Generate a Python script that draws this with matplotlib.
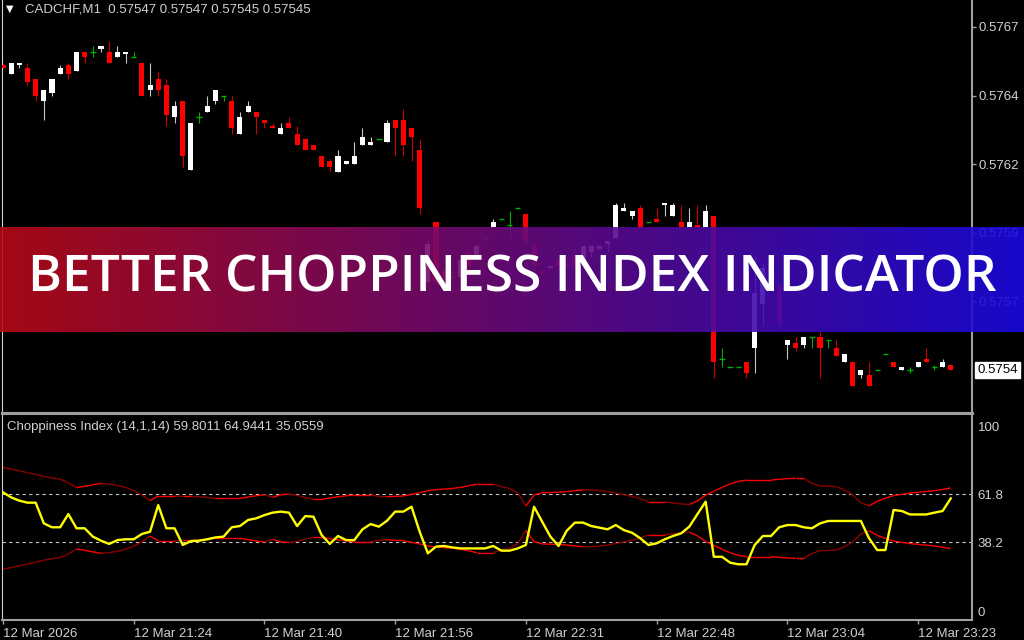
import numpy as np
import matplotlib
matplotlib.use("Agg")
import matplotlib.pyplot as plt
from matplotlib.collections import LineCollection

plt.rcParams['font.family'] = ['Liberation Sans', 'DejaVu Sans']

# CADCHF M1 candles
opens = [
    0.57656, 0.57653, 0.57656, 0.57655, 0.57651, 0.57643, 0.57646, 0.57653, 0.57656, 0.57654,
    0.57661, 0.57661, 0.57662, 0.57661, 0.57659, 0.57660, 0.57659, 0.57657, 0.57647, 0.57651,
    0.57649, 0.57637, 0.57643, 0.57618, 0.57637, 0.57639, 0.57643, 0.57645, 0.57643, 0.57631,
    0.57639, 0.57639, 0.57636, 0.57634, 0.57631, 0.57635, 0.57631, 0.57629, 0.57627, 0.57623,
    0.57621, 0.57617, 0.57620, 0.57620, 0.57627, 0.57627, 0.57629, 0.57628, 0.57636, 0.57636,
    0.57633, 0.57625, 0.57577, 0.57599, 0.57581, 0.57579, 0.57579, 0.57588, 0.57586, 0.57593,
    0.57597, 0.57600, 0.57598, 0.57604, 0.57602, 0.57590, 0.57581, 0.57582, 0.57585, 0.57584,
    0.57587, 0.57584, 0.57588, 0.57589, 0.57591, 0.57593, 0.57603, 0.57601, 0.57604, 0.57599,
    0.57600, 0.57605, 0.57601, 0.57599, 0.57597, 0.57598, 0.57597, 0.57601, 0.57549, 0.57546,
    0.57546, 0.57548, 0.57553, 0.57569, 0.57583, 0.57576, 0.57554, 0.57555, 0.57554, 0.57557,
    0.57557, 0.57556, 0.57553, 0.57548, 0.57548, 0.57543, 0.57543, 0.57545, 0.57551, 0.57548,
    0.57545, 0.57545, 0.57546, 0.57549, 0.57546, 0.57546, 0.57547]
highs = [
    0.57657, 0.57657, 0.57657, 0.57657, 0.57651, 0.57647, 0.57651, 0.57656, 0.57657, 0.57661,
    0.57661, 0.57663, 0.57663, 0.57665, 0.57663, 0.57661, 0.57661, 0.57657, 0.57657, 0.57654,
    0.57651, 0.57643, 0.57643, 0.57635, 0.57639, 0.57645, 0.57647, 0.57645, 0.57645, 0.57639,
    0.57643, 0.57639, 0.57636, 0.57635, 0.57635, 0.57637, 0.57634, 0.57629, 0.57627, 0.57623,
    0.57622, 0.57625, 0.57621, 0.57628, 0.57633, 0.57630, 0.57629, 0.57636, 0.57636, 0.57640,
    0.57633, 0.57629, 0.57592, 0.57599, 0.57582, 0.57581, 0.57586, 0.57589, 0.57591, 0.57594,
    0.57600, 0.57600, 0.57603, 0.57604, 0.57602, 0.57592, 0.57581, 0.57583, 0.57585, 0.57584,
    0.57590, 0.57590, 0.57590, 0.57590, 0.57592, 0.57606, 0.57606, 0.57603, 0.57605, 0.57599,
    0.57604, 0.57606, 0.57606, 0.57605, 0.57604, 0.57605, 0.57605, 0.57601, 0.57553, 0.57546,
    0.57546, 0.57548, 0.57586, 0.57584, 0.57586, 0.57576, 0.57556, 0.57557, 0.57557, 0.57557,
    0.57559, 0.57556, 0.57556, 0.57551, 0.57548, 0.57545, 0.57548, 0.57545, 0.57551, 0.57548,
    0.57546, 0.57546, 0.57548, 0.57553, 0.57547, 0.57549, 0.57547]
lows = [
    0.57655, 0.57653, 0.57655, 0.57649, 0.57643, 0.57636, 0.57645, 0.57653, 0.57651, 0.57654,
    0.57657, 0.57659, 0.57661, 0.57657, 0.57659, 0.57657, 0.57659, 0.57645, 0.57645, 0.57645,
    0.57634, 0.57635, 0.57619, 0.57618, 0.57635, 0.57639, 0.57642, 0.57643, 0.57631, 0.57631,
    0.57639, 0.57631, 0.57633, 0.57633, 0.57631, 0.57633, 0.57627, 0.57625, 0.57625, 0.57619,
    0.57617, 0.57617, 0.57620, 0.57620, 0.57627, 0.57627, 0.57629, 0.57628, 0.57623, 0.57623,
    0.57621, 0.57602, 0.57577, 0.57576, 0.57578, 0.57577, 0.57579, 0.57582, 0.57586, 0.57593,
    0.57597, 0.57600, 0.57593, 0.57604, 0.57591, 0.57581, 0.57580, 0.57582, 0.57583, 0.57583,
    0.57580, 0.57584, 0.57586, 0.57589, 0.57588, 0.57593, 0.57603, 0.57600, 0.57597, 0.57599,
    0.57599, 0.57601, 0.57601, 0.57597, 0.57597, 0.57597, 0.57597, 0.57542, 0.57546, 0.57546,
    0.57546, 0.57542, 0.57544, 0.57561, 0.57578, 0.57560, 0.57549, 0.57552, 0.57553, 0.57553,
    0.57542, 0.57553, 0.57550, 0.57548, 0.57539, 0.57542, 0.57539, 0.57545, 0.57551, 0.57546,
    0.57545, 0.57544, 0.57546, 0.57548, 0.57545, 0.57546, 0.57545]
closes = [
    0.57655, 0.57657, 0.57657, 0.57650, 0.57645, 0.57647, 0.57651, 0.57655, 0.57653, 0.57661,
    0.57659, 0.57661, 0.57663, 0.57657, 0.57661, 0.57661, 0.57659, 0.57645, 0.57649, 0.57647,
    0.57638, 0.57641, 0.57623, 0.57635, 0.57637, 0.57641, 0.57647, 0.57645, 0.57633, 0.57637,
    0.57641, 0.57637, 0.57635, 0.57633, 0.57633, 0.57633, 0.57627, 0.57625, 0.57625, 0.57619,
    0.57619, 0.57623, 0.57621, 0.57623, 0.57630, 0.57628, 0.57629, 0.57635, 0.57633, 0.57627,
    0.57630, 0.57604, 0.57591, 0.57577, 0.57579, 0.57579, 0.57585, 0.57583, 0.57590, 0.57593,
    0.57599, 0.57600, 0.57598, 0.57604, 0.57592, 0.57583, 0.57580, 0.57583, 0.57583, 0.57583,
    0.57583, 0.57590, 0.57590, 0.57590, 0.57592, 0.57605, 0.57604, 0.57603, 0.57597, 0.57599,
    0.57599, 0.57606, 0.57605, 0.57597, 0.57599, 0.57597, 0.57603, 0.57548, 0.57549, 0.57546,
    0.57546, 0.57544, 0.57573, 0.57582, 0.57580, 0.57562, 0.57556, 0.57553, 0.57557, 0.57557,
    0.57553, 0.57556, 0.57550, 0.57551, 0.57539, 0.57545, 0.57539, 0.57545, 0.57551, 0.57546,
    0.57546, 0.57545, 0.57548, 0.57548, 0.57546, 0.57548, 0.57545]

# Choppiness Index (14,1,14) and its bands
chop = [
    62.8, 60.3, 58.7, 57.7, 57.7, 47.5, 45.6, 45.6, 52.1, 45.1,
    45.1, 41.0, 39.0, 37.4, 39.3, 39.7, 39.7, 42.3, 43.4, 56.5,
    45.1, 45.1, 36.9, 38.8, 39.0, 39.7, 40.6, 41.0, 45.6, 46.2,
    49.2, 50.0, 51.6, 52.8, 53.3, 52.8, 46.2, 51.1, 50.8, 41.8,
    37.4, 41.3, 39.3, 39.3, 44.6, 47.2, 45.9, 48.8, 53.3, 53.3,
    55.7, 43.4, 32.8, 36.1, 36.4, 35.7, 35.2, 35.2, 35.2, 35.2,
    36.4, 34.1, 34.1, 35.2, 36.9, 55.7, 48.3, 41.0, 36.4, 43.9,
    47.9, 47.9, 46.2, 45.4, 44.6, 46.7, 44.2, 42.9, 40.2, 36.9,
    37.7, 39.7, 41.3, 42.6, 45.9, 52.1, 58.2, 31.1, 31.1, 28.2,
    27.4, 27.4, 36.9, 41.3, 41.3, 45.6, 46.7, 46.7, 45.6, 45.1,
    47.5, 48.7, 48.7, 48.7, 48.7, 48.7, 40.2, 34.4, 34.4, 54.1,
    53.6, 51.9, 51.9, 51.9, 52.8, 53.6, 59.8011]
upper = [
    75.1, 74.2, 73.4, 72.4, 71.6, 70.6, 69.8, 69.3, 67.5, 65.1,
    65.7, 66.5, 67.2, 66.9, 66.2, 65.2, 63.7, 61.5, 58.7, 61.0,
    61.0, 61.0, 60.8, 60.8, 60.6, 60.3, 59.8, 59.8, 59.8, 59.8,
    60.5, 61.1, 61.6, 60.3, 61.6, 61.9, 61.3, 60.3, 59.3, 59.3,
    60.0, 60.6, 61.1, 61.5, 61.5, 61.5, 60.8, 60.6, 60.8, 61.0,
    61.8, 62.6, 63.6, 64.1, 64.4, 64.7, 65.2, 66.0, 66.9, 66.9,
    66.9, 65.5, 64.7, 62.5, 56.0, 61.5, 62.6, 62.7, 62.9, 63.1,
    63.6, 64.0, 63.9, 63.7, 63.2, 62.4, 61.6, 60.8, 59.7, 58.1,
    58.1, 58.1, 57.5, 57.1, 56.8, 58.6, 61.4, 63.3, 65.2, 66.9,
    68.2, 68.8, 68.8, 68.8, 68.8, 69.2, 69.5, 69.7, 69.7, 67.3,
    65.9, 65.8, 65.6, 64.0, 61.5, 57.6, 56.1, 58.4, 59.9, 61.2,
    61.8, 62.4, 62.8, 63.2, 63.6, 64.2, 64.9441]
lower = [
    24.9, 25.8, 26.6, 27.6, 28.4, 29.4, 30.2, 30.7, 32.5, 34.9,
    34.3, 33.5, 32.8, 33.1, 33.8, 34.8, 36.3, 38.5, 41.3, 39.0,
    39.0, 39.0, 39.2, 39.2, 39.4, 39.7, 40.2, 40.2, 40.2, 40.2,
    39.5, 38.9, 38.4, 39.7, 38.4, 38.1, 38.7, 39.7, 40.7, 40.7,
    40.0, 39.4, 38.9, 38.5, 38.5, 38.5, 39.2, 39.4, 39.2, 39.0,
    38.2, 37.4, 36.4, 35.9, 35.6, 35.3, 34.8, 34.0, 33.1, 33.1,
    33.1, 34.5, 35.3, 37.5, 44.0, 38.5, 37.4, 37.3, 37.1, 36.9,
    36.4, 36.0, 36.1, 36.3, 36.8, 37.6, 38.4, 39.2, 40.3, 41.9,
    41.9, 41.9, 42.5, 42.9, 43.2, 41.4, 38.6, 36.7, 34.8, 33.1,
    31.8, 31.2, 31.2, 31.2, 31.2, 30.8, 30.5, 30.3, 30.3, 32.7,
    34.1, 34.2, 34.4, 36.0, 38.5, 42.4, 43.9, 41.6, 40.1, 38.8,
    38.2, 37.6, 37.2, 36.8, 36.4, 35.8, 35.0559]

price_ticks = [0.57670, 0.57645, 0.57620, 0.57595, 0.57570]
price_labels = ['0.5767', '0.5764', '0.5762', '0.5759', '0.5757']
time_idx = [0, 16, 32, 48, 64, 80, 96, 112]
time_labels = ['12 Mar 2026', '12 Mar 21:24', '12 Mar 21:40', '12 Mar 21:56',
               '12 Mar 22:31', '12 Mar 22:48', '12 Mar 23:04', '12 Mar 23:23']
levels = [61.8, 38.2]

o = np.array(opens); h = np.array(highs); l = np.array(lows); c = np.array(closes)
x = np.arange(len(o))

fig = plt.figure(figsize=(10.24, 6.4), dpi=100, facecolor='black')

def box(x0, y0, x1, y1):
    return [x0 / 1024, 1 - y1 / 640, (x1 - x0) / 1024, (y1 - y0) / 640]

ax = fig.add_axes(box(2, 0, 972, 412))
ax2 = fig.add_axes(box(2, 413, 972, 620))
for a in (ax, ax2):
    a.set_facecolor('black')
    a.set_xlim(-0.12, 118.6)

# candles
bull = c > o
bear = c < o
doji = c == o
ax.vlines(x[bull], l[bull], h[bull], color='#c8c8c8', lw=0.8, zorder=2)
ax.vlines(x[bear], l[bear], h[bear], color='#cc0000', lw=0.8, zorder=2)
ax.vlines(x[doji], l[doji], h[doji], color='#00b000', lw=0.8, zorder=2)
ax.bar(x[bull], c[bull] - o[bull], bottom=o[bull], width=0.62, color='white', zorder=3)
ax.bar(x[bear], o[bear] - c[bear], bottom=c[bear], width=0.62, color='#ff0000', zorder=3)
ax.hlines(c[doji], x[doji] - 0.33, x[doji] + 0.33, color='#00b000', lw=1.0, zorder=3)
ax.set_ylim(0.575297, 0.576798)

ax.yaxis.tick_right()
ax.set_yticks(price_ticks)
ax.set_yticklabels(price_labels)
ax.set_xticks([])
ax.tick_params(axis='y', colors='#a0a0a0', labelcolor='#d0d0d0', length=3,
               width=1, pad=2, labelsize=9.5)
for s in ('top', 'bottom'):
    ax.spines[s].set_visible(False)
ax.spines['left'].set_color('#d0d0d0')
ax.spines['left'].set_linewidth(0.8)
ax.spines['right'].set_color('#a0a0a0')
ax.spines['right'].set_linewidth(1.5)

# indicator
up = np.array(upper); lo = np.array(lower)
bright, dark = '#ff0000', '#8b0000'
def band(vals, expanding):
    segs = [[(x[i], vals[i]), (x[i + 1], vals[i + 1])] for i in range(len(vals) - 1)]
    cols = [bright if expanding(vals[i], vals[i + 1]) else dark for i in range(len(vals) - 1)]
    return LineCollection(segs, colors=cols, linewidths=1.0, zorder=2)
ax2.add_collection(band(up, lambda a, b: b >= a))
ax2.add_collection(band(lo, lambda a, b: b <= a))
ax2.plot(x, chop, color='#ffff00', lw=1.7, zorder=3)
for lv in levels:
    ax2.axhline(lv, color='#c8c8c8', lw=0.8, ls=(0, (3, 3)), zorder=1)
ax2.set_ylim(0, 101.8)

ax2.yaxis.tick_right()
ax2.set_yticks([95.4, 61.8, 38.2, 4.4])
ax2.set_yticklabels(['100', '61.8', '38.2', '0'])
ax2.tick_params(axis='y', length=0, pad=4, labelcolor='#d0d0d0', labelsize=9.5)
ax2.set_xticks(time_idx)
ax2.set_xticklabels(time_labels)
for lbl in ax2.get_xticklabels():
    lbl.set_ha('left')
ax2.tick_params(axis='x', colors='#a0a0a0', labelcolor='#d0d0d0', length=3,
                width=1, pad=3, labelsize=9.5)
ax2.spines['top'].set_color('#a0a0a0')
ax2.spines['top'].set_linewidth(2.2)
ax2.spines['left'].set_color('#d0d0d0')
ax2.spines['left'].set_linewidth(0.8)
for s in ('right', 'bottom'):
    ax2.spines[s].set_color('#a0a0a0')
    ax2.spines[s].set_linewidth(1.5)

# header texts
fig.text(6 / 1024, 1 - 9 / 640, '\u25bc', fontsize=7, color='white', va='center',
         family=['DejaVu Sans'])
fig.text(25 / 1024, 1 - 10 / 640, 'CADCHF,M1  0.57547 0.57547 0.57545 0.57545',
         fontsize=9.5, color='#d0d0d0', va='center')
fig.text(7 / 1024, 1 - 427 / 640, 'Choppiness Index (14,1,14) 59.8011 64.9441 35.0559',
         fontsize=9.5, color='#d0d0d0', va='center')
fig.text(977 / 1024, 1 - 370 / 640, '0.5754', fontsize=9.5, color='black', va='center',
         bbox=dict(boxstyle='square,pad=0.18', fc='white', ec='white'))

# banner
bax = fig.add_axes(box(0, 227, 1024, 332))
bax.set_zorder(5)
t = np.linspace(0, 1, 512)[:, None]
left_c = np.array([0.72, 0.04, 0.09])
right_c = np.array([0.10, 0.04, 0.88])
grad = (left_c * (1 - t) + right_c * t)[None, :, :]
bax.imshow(grad, aspect='auto', extent=(0, 1, 0, 1), alpha=0.9)
bax.set_xlim(0, 1); bax.set_ylim(0, 1)
bax.set_axis_off()
title = bax.text(0.5, 0.381, 'BETTER CHOPPINESS INDEX INDICATOR', ha='center', va='baseline',
                 color='white', fontsize=32, fontweight='semibold',
                 family=['Open Sans', 'DejaVu Sans'])
fig.canvas.draw()
w = title.get_window_extent().width
title.set_fontsize(32 * 970 / w)

fig.savefig('out.png', dpi=100, facecolor='black')
